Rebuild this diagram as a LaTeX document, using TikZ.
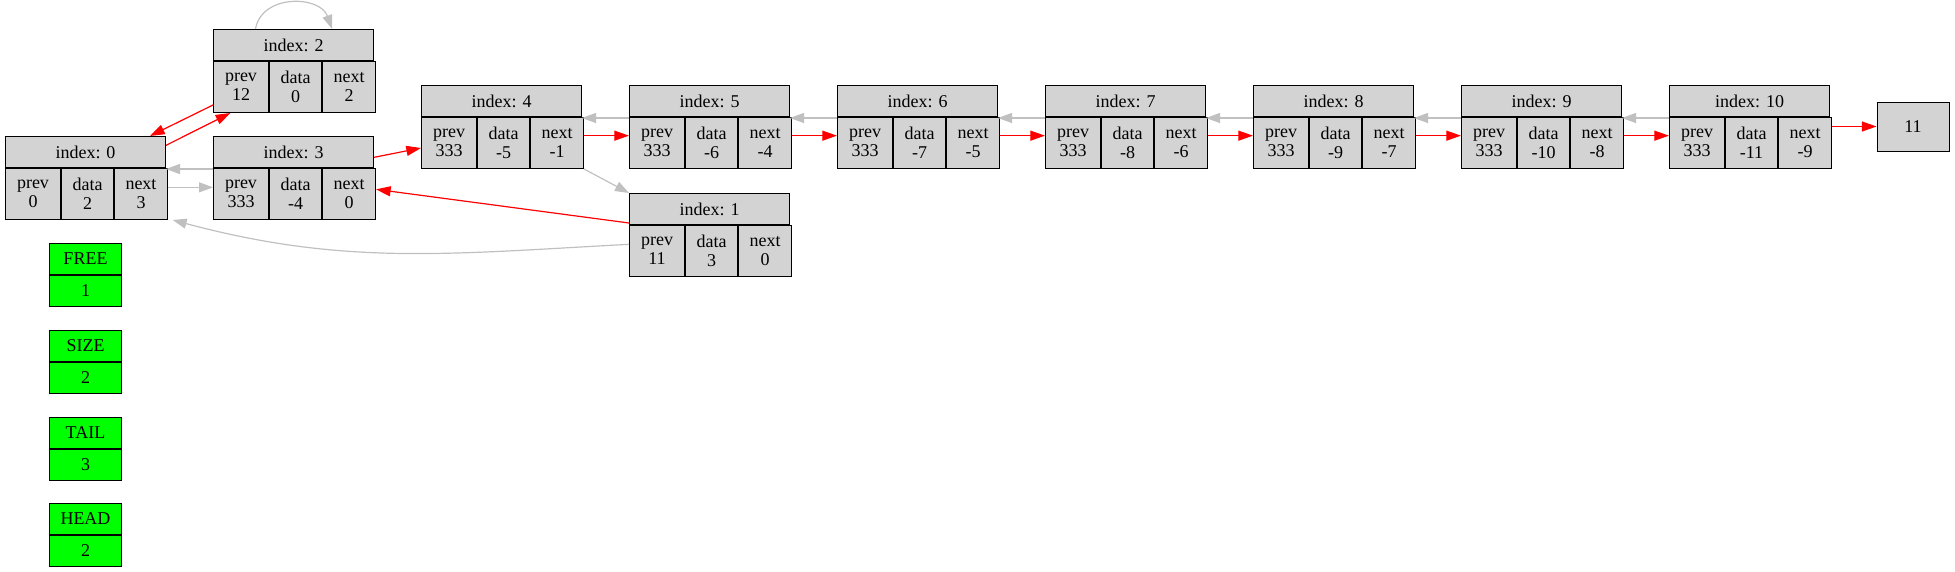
\documentclass[tikz,border=0pt]{standalone}
\usepackage{fontspec}
\setmainfont{Liberation Serif}
\usetikzlibrary{arrows.meta}

\definecolor{cellgray}{HTML}{D3D3D3}
\definecolor{linkgray}{HTML}{C0C0C0}
\definecolor{regcolor}{HTML}{00FF00}

% one list slot: header on top, three cells below
\newcommand{\memnode}[7]{%
	\node[headbox] (#1-head) at (#2,#3) {index: #4};
	\node[cellbox, minimum width=41.25pt] (#1-prev) at (#1-head.south west) {prev\\#5};
	\node[cellbox, minimum width=39pt] (#1-data) at (#1-prev.north east) {data\\#6};
	\node[cellbox, minimum width=39.75pt] (#1-next) at (#1-data.north east) {next\\#7};
}
% green register box
\newcommand{\regnode}[4]{%
	\node[regbox] (#1) at (49,#2) {#3};
	\node[regbox] (#1-val) at (#1.south west) {#4};
}

\begin{document}
\begin{tikzpicture}[x=0.75pt, y=-0.75pt,
		font=\fontsize{13.5pt}{14pt}\selectfont,
		headbox/.style={draw=black, fill=cellgray, line width=0.75pt, minimum width=120pt, minimum height=23.25pt, inner sep=0pt, anchor=north west},
		cellbox/.style={draw=black, fill=cellgray, line width=0.75pt, minimum height=38.25pt, inner sep=0pt, align=center, anchor=north west},
		regbox/.style={draw=black, fill=regcolor, line width=0.75pt, minimum width=54pt, minimum height=23.25pt, inner sep=0pt, anchor=north west},
		rededge/.style={red, line width=0.9pt, -{Triangle[length=11pt, width=7.5pt]}},
		grayedge/.style={linkgray, line width=0.9pt, -{Triangle[length=10.5pt, width=7.5pt]}}]
		\useasboundingbox (0,0) rectangle (1955,571);
		
		\memnode{n0}{5}{136}{0}{0}{2}{3}
		\memnode{n2}{213}{29}{2}{12}{0}{2}
		\memnode{n3}{213}{136}{3}{333}{-4}{0}
		\memnode{n4}{421}{85}{4}{333}{-5}{-1}
		\memnode{n1}{629}{193}{1}{11}{3}{0}
		\memnode{n5}{629}{85}{5}{333}{-6}{-4}
		\memnode{n6}{837}{85}{6}{333}{-7}{-5}
		\memnode{n7}{1045}{85}{7}{333}{-8}{-6}
		\memnode{n8}{1253}{85}{8}{333}{-9}{-7}
		\memnode{n9}{1461}{85}{9}{333}{-10}{-8}
		\memnode{n10}{1669}{85}{10}{333}{-11}{-9}
		\node[draw=black, fill=cellgray, line width=0.75pt, minimum width=54pt, minimum height=36.75pt, inner sep=0pt] (n11) at (1913,126.5) {11};
		
		\regnode{free}{243}{FREE}{1}
		\regnode{size}{330}{SIZE}{2}
		\regnode{tail}{417}{TAIL}{3}
		\regnode{head}{503}{HEAD}{2}
		
		\draw[grayedge] ([xshift=-28.5pt]n2-head.north) to[out=80, in=110, looseness=1.2] ([xshift=29pt]n2-head.north);
		\draw[rededge] ([yshift=6pt]n2-prev.south west) -- ([xshift=-12pt]n0-head.north east);
		\draw[rededge] ([yshift=5pt]n0-head.east) -- ([xshift=-8pt]n2-prev.south);
		\draw[grayedge] ([yshift=-0.75pt]n3-head.south west) -- ([yshift=-0.75pt]n0-head.south east);
		\draw[grayedge] ([yshift=5pt]n0-next.east) -- ([yshift=5pt]n3-prev.west);
		\draw[rededge] ([yshift=-4pt]n3-head.east) -- ([yshift=-3.75pt]n4-prev.west);
		\draw[grayedge] (n4-next.south east) -- (n1-head.north west);
		\draw[rededge] ([yshift=1.5pt]n1-head.south west) -- ([yshift=3.5pt]n3-next.east);
		\draw[grayedge] ([yshift=5pt]n1-prev.west) to[out=183, in=-15] ([xshift=3.5pt]n0-next.south east);
		
		\draw[rededge] ([yshift=5.5pt]n4-next.east) -- ([yshift=5.5pt]n5-prev.west);
		\draw[rededge] ([yshift=5.5pt]n5-next.east) -- ([yshift=5.5pt]n6-prev.west);
		\draw[rededge] ([yshift=5.5pt]n6-next.east) -- ([yshift=5.5pt]n7-prev.west);
		\draw[rededge] ([yshift=5.5pt]n7-next.east) -- ([yshift=5.5pt]n8-prev.west);
		\draw[rededge] ([yshift=5.5pt]n8-next.east) -- ([yshift=5.5pt]n9-prev.west);
		\draw[rededge] ([yshift=5.5pt]n9-next.east) -- ([yshift=5.5pt]n10-prev.west);
		\draw[rededge] (n10-next.east |- n11.west) -- (n11.west);
		
		\draw[grayedge] ([yshift=-0.75pt]n5-head.south west) -- ([yshift=-0.75pt]n4-head.south east);
		\draw[grayedge] ([yshift=-0.75pt]n6-head.south west) -- ([yshift=-0.75pt]n5-head.south east);
		\draw[grayedge] ([yshift=-0.75pt]n7-head.south west) -- ([yshift=-0.75pt]n6-head.south east);
		\draw[grayedge] ([yshift=-0.75pt]n8-head.south west) -- ([yshift=-0.75pt]n7-head.south east);
		\draw[grayedge] ([yshift=-0.75pt]n9-head.south west) -- ([yshift=-0.75pt]n8-head.south east);
		\draw[grayedge] ([yshift=-0.75pt]n10-head.south west) -- ([yshift=-0.75pt]n9-head.south east);
		
\end{tikzpicture}
\end{document}
